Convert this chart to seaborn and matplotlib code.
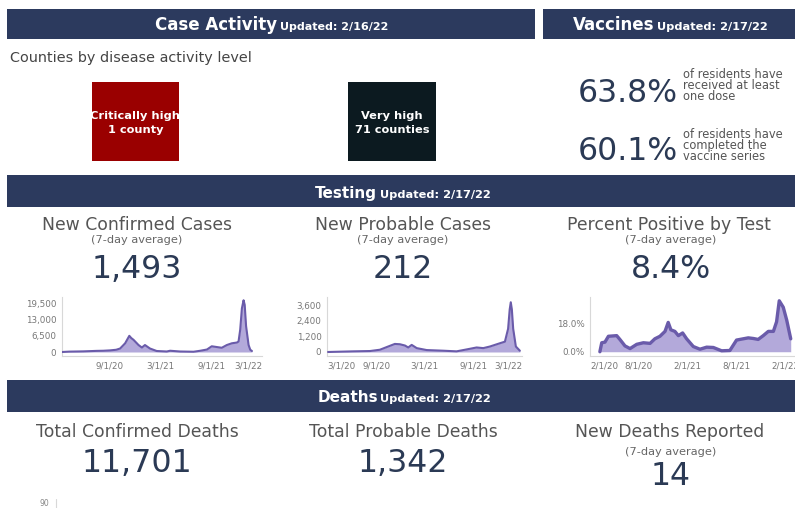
import numpy as np
import pandas as pd
import matplotlib
matplotlib.use("Agg")
import matplotlib.pyplot as plt
import matplotlib.dates as mdates
from matplotlib.patches import Rectangle
from matplotlib.lines import Line2D
import seaborn as sns

# ---------------- data ----------------
case_header = "Case Activity"
case_updated = "Updated: 2/16/22"
vacc_header = "Vaccines"
vacc_updated = "Updated: 2/17/22"
testing_header = "Testing"
testing_updated = "Updated: 2/17/22"
deaths_header = "Deaths"
deaths_updated = "Updated: 2/17/22"

counties_caption = "Counties by disease activity level"
county_levels = ["Critically high", "Very high"]
county_counts = [1, 71]

vacc_values = ["63.8%", "60.1%"]
vacc_descriptions = [["of residents have", "received at least", "one dose"],
                     ["of residents have", "completed the", "vaccine series"]]

testing_titles = ["New Confirmed Cases", "New Probable Cases", "Percent Positive by Test"]
testing_subtitles = ["(7-day average)", "(7-day average)", "(7-day average)"]
testing_values = ["1,493", "212", "8.4%"]

deaths_titles = ["Total Confirmed Deaths", "Total Probable Deaths", "New Deaths Reported"]
deaths_subtitles = ["", "", "(7-day average)"]
deaths_values = ["11,701", "1,342", "14"]

confirmed_dates = ["2020-03-15", "2020-04-10", "2020-05-30", "2020-07-17", "2020-08-10",
                   "2020-09-03", "2020-09-25", "2020-10-09", "2020-10-27", "2020-11-11",
                   "2020-11-18", "2020-11-26", "2020-12-14", "2020-12-26", "2021-01-06",
                   "2021-01-24", "2021-02-17", "2021-03-25", "2021-04-06", "2021-05-12",
                   "2021-06-29", "2021-07-23", "2021-08-16", "2021-09-02", "2021-09-20",
                   "2021-10-08", "2021-10-26", "2021-11-13", "2021-12-01", "2021-12-07",
                   "2021-12-13", "2021-12-19", "2021-12-25", "2021-12-29", "2022-01-03",
                   "2022-01-12", "2022-01-18", "2022-01-24"]
confirmed_values = [0, 150, 250, 450, 500,
                    650, 900, 1400, 3500, 6500,
                    5600, 4900, 2800, 1800, 2800,
                    1400, 400, 200, 500, 200,
                    100, 500, 1000, 2300, 2000,
                    1700, 2800, 3500, 3800, 4200,
                    9000, 17500, 20800, 19000, 10400,
                    2800, 900, 400]

probable_dates = ["2020-03-05", "2020-06-07", "2020-08-09", "2020-09-15", "2020-10-16",
                  "2020-11-10", "2020-11-29", "2020-12-18", "2020-12-30", "2021-01-12",
                  "2021-01-31", "2021-03-09", "2021-05-10", "2021-06-29", "2021-08-06",
                  "2021-09-12", "2021-10-07", "2021-11-01", "2021-12-08", "2021-12-27",
                  "2022-01-08", "2022-01-14", "2022-01-18", "2022-01-22", "2022-01-27",
                  "2022-02-06", "2022-02-21"]
probable_values = [0, 50, 75, 175, 425,
                   625, 600, 500, 350, 550,
                   300, 150, 100, 50, 200,
                   350, 300, 425, 675, 800,
                   1800, 3300, 3850, 3300, 1800,
                   425, 100]

positivity_dates = ["2020-03-09", "2020-03-16", "2020-03-28", "2020-04-10", "2020-05-11",
                    "2020-05-23", "2020-06-11", "2020-06-30", "2020-07-25", "2020-08-19",
                    "2020-09-13", "2020-10-01", "2020-10-20", "2020-11-08", "2020-11-20",
                    "2020-11-30", "2020-12-15", "2020-12-28", "2021-01-13", "2021-01-28",
                    "2021-02-22", "2021-03-19", "2021-04-13", "2021-05-08", "2021-06-08",
                    "2021-07-09", "2021-08-03", "2021-08-28", "2021-09-16", "2021-10-05",
                    "2021-10-23", "2021-11-11", "2021-11-30", "2021-12-19", "2021-12-31",
                    "2022-01-10", "2022-01-25", "2022-02-07", "2022-02-22"]
positivity_values = [0.0, 5.7, 6.1, 9.8, 10.2,
                     7.8, 3.7, 2.0, 4.7, 5.7,
                     5.3, 8.2, 9.8, 12.9, 18.6,
                     13.9, 12.9, 10.2, 11.9, 8.2,
                     3.3, 1.6, 2.9, 2.7, 0.6,
                     0.8, 7.4, 8.2, 8.8, 8.4,
                     7.8, 10.2, 12.9, 12.9, 19.0,
                     32.3, 28.2, 20.0, 8.2]

confirmed_yticks = [0, 6500, 13000, 19500]
confirmed_yticklabels = ["0", "6,500", "13,000", "19,500"]
confirmed_xticks = ["2020-09-01", "2021-03-01", "2021-09-01", "2022-03-01"]
confirmed_xticklabels = ["9/1/20", "3/1/21", "9/1/21", "3/1/22"]

probable_yticks = [0, 1200, 2400, 3600]
probable_yticklabels = ["0", "1,200", "2,400", "3,600"]
probable_xticks = ["2020-03-01", "2020-09-01", "2021-03-01", "2021-09-01", "2022-03-01"]
probable_xticklabels = ["3/1/20", "9/1/20", "3/1/21", "9/1/21", "3/1/22"]

positivity_yticks = [0, 18]
positivity_yticklabels = ["0.0%", "18.0%"]
positivity_xticks = ["2020-02-01", "2020-08-01", "2021-02-01", "2021-08-01", "2022-02-01"]
positivity_xticklabels = ["2/1/20", "8/1/20", "2/1/21", "8/1/21", "2/1/22"]

# ---------------- style ----------------
sns.set_theme(style="white")
plt.rcParams["font.family"] = ["DejaVu Sans"]

W, H = 795, 508
NAVY = "#2C3A5E"
NUM = "#2B3A55"
GRAY = "#555555"
LINE = "#6A5BAA"
FILL = "#B3A9DA"

fig = plt.figure(figsize=(W / 100, H / 100), dpi=100)
fig.patch.set_facecolor("white")


def fx(x):
    return x / W


def fy(y):
    return 1 - y / H


def rect(x0, y0, x1, y1, color):
    fig.add_artist(Rectangle((fx(x0), fy(y1)), (x1 - x0) / W, (y1 - y0) / H,
                             transform=fig.transFigure, facecolor=color,
                             edgecolor="none", zorder=0))


def txt(x, y, s, size, color, weight="normal", ha="center", va="baseline", **kw):
    return fig.text(fx(x), fy(y), s, fontsize=size, color=color, fontweight=weight,
                    ha=ha, va=va, **kw)


# header bars
rect(7, 9, 535, 39, NAVY)
rect(543, 9, 795, 39, NAVY)
rect(7, 175, 795, 207, NAVY)
rect(7, 380, 795, 412, NAVY)

txt(155, 30.5, case_header, 12, "white", "bold", ha="left")
txt(280, 30.5, case_updated, 8, "white", "bold", ha="left")
txt(573, 30, vacc_header, 12, "white", "bold", ha="left")
txt(657, 30, vacc_updated, 8.2, "white", "bold", ha="left")
txt(315, 198, testing_header, 11, "white", "bold", ha="left")
txt(380, 198, testing_updated, 8.2, "white", "bold", ha="left")
txt(318, 402, deaths_header, 11, "white", "bold", ha="left")
txt(380, 402, deaths_updated, 8.2, "white", "bold", ha="left")

# county boxes
txt(10, 62, counties_caption, 10.4, "#444444", ha="left")
box_x = [(92, 179), (348, 436)]
box_colors = ["#9A0000", "#0C1A20"]
for (x0, x1), col, lvl, cnt in zip(box_x, box_colors, county_levels, county_counts):
    rect(x0, 82, x1, 161, col)
    unit = "county" if cnt == 1 else "counties"
    txt((x0 + x1) / 2, 119, lvl, 8.2, "white", "bold")
    txt((x0 + x1) / 2, 133, f"{cnt} {unit}", 8.2, "white", "bold")

# vaccines
for val, desc, yb, ytop in zip(vacc_values, vacc_descriptions, [102, 160], [67.5, 127.5]):
    txt(628, yb, val, 22.7, NUM)
    txt(683, ytop, "\n".join(desc), 8.3, "#555555", ha="left", va="top",
        linespacing=0.82)

# testing titles
centers = [137, 403, 669]
sub_centers = [137, 403, 671]
for cx, scx, t, s, v in zip(centers, sub_centers, testing_titles, testing_subtitles, testing_values):
    txt(cx, 230, t, 12.4, GRAY)
    txt(scx, 243, s, 8.2, "#666666")
    txt(scx, 278, v, 22.8, NUM)

# deaths titles
for cx, t, s, v in zip([137, 403, 670], deaths_titles, deaths_subtitles, deaths_values):
    txt(cx, 437, t, 12.4, GRAY)
    if s:
        txt(671, 455, s, 8.2, "#666666")
        txt(671, 485, v, 22.8, NUM)
    else:
        txt(cx, 472, v, 22.8, NUM)


# mini charts
def mini(x0, x1, dates, values, ylim, yticks, yticklabels, xlim, xticks, xticklabels,
         lw, first_left=False, last_right=False):
    ax = fig.add_axes([fx(x0), fy(356), (x1 - x0) / W, (356 - 297) / H])
    df = pd.DataFrame({"date": pd.to_datetime(dates), "value": values})
    sns.lineplot(data=df, x="date", y="value", ax=ax, color=LINE, linewidth=lw, zorder=3)
    ax.fill_between(df["date"], df["value"], 0, color=FILL, linewidth=0, zorder=2)
    ax.set_xlim(mdates.date2num(pd.Timestamp(xlim[0])), mdates.date2num(pd.Timestamp(xlim[1])))
    ax.set_ylim(*ylim)
    ax.set_yticks(yticks)
    ax.set_yticklabels(yticklabels)
    ax.set_xticks([mdates.date2num(pd.Timestamp(d)) for d in xticks])
    ax.set_xticklabels(xticklabels)
    ax.set_xlabel("")
    ax.set_ylabel("")
    ax.tick_params(axis="both", length=0, labelsize=6.3, labelcolor="#777777")
    ax.tick_params(axis="y", pad=4)
    ax.tick_params(axis="x", pad=4)
    for sp in ["top", "right"]:
        ax.spines[sp].set_visible(False)
    for sp in ["left", "bottom"]:
        ax.spines[sp].set_color("#d8d8d8")
        ax.spines[sp].set_linewidth(0.8)
    ax.patch.set_alpha(0)
    ax.grid(False)
    labs = ax.get_xticklabels()
    if first_left:
        labs[0].set_ha("left")
    if last_right:
        labs[-1].set_ha("right")
    return ax


mini(62, 262, confirmed_dates, confirmed_values, (-1608, 22110), confirmed_yticks,
     confirmed_yticklabels, ("2020-03-15", "2022-03-01"), confirmed_xticks,
     confirmed_xticklabels, 1.5, last_right=True)
mini(327, 522, probable_dates, probable_values, (-310, 4258), probable_yticks,
     probable_yticklabels, ("2020-03-01", "2022-03-01"), probable_xticks,
     probable_xticklabels, 1.5, first_left=True, last_right=True)
mini(590, 795, positivity_dates, positivity_values, (-2.7, 34.7), positivity_yticks,
     positivity_yticklabels, ("2020-02-01", "2022-03-10"), positivity_xticks,
     positivity_xticklabels, 2.4, first_left=True)

# partially visible deaths chart at the bottom edge
txt(49, 506, "90", 5.5, "#888888", ha="right")
fig.add_artist(Line2D([fx(56), fx(56)], [fy(499), fy(508)], transform=fig.transFigure,
                      color="#d8d8d8", linewidth=0.8))

fig.savefig("out.png", dpi=100, facecolor="white")
